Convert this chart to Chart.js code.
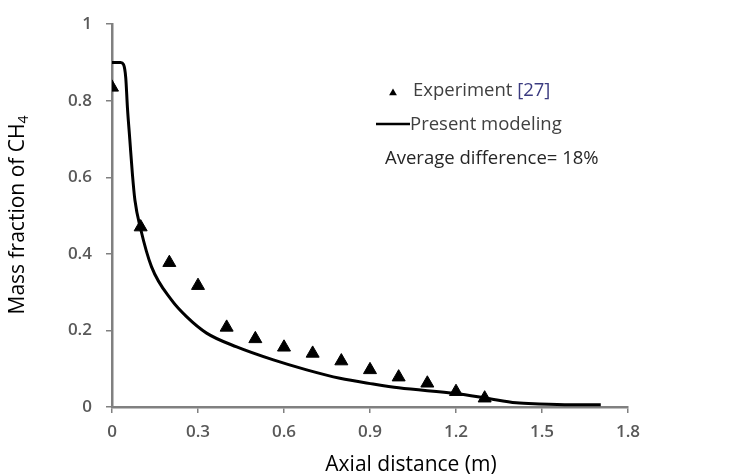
<!DOCTYPE html>
<html>
<head>
<meta charset="utf-8">
<script src="https://cdn.jsdelivr.net/npm/chart.js@4/dist/chart.umd.min.js"></script>
<style>
  html, body { margin: 0; padding: 0; background: #fff; }
  #wrap { width: 751px; height: 476px; position: relative; }
</style>
</head>
<body>
<div id="wrap"><canvas id="chart"></canvas></div>
<script>
// measured points (triangles)
const expX = [0, 0.1, 0.2, 0.3, 0.4, 0.5, 0.6, 0.7, 0.8, 0.9, 1.0, 1.1, 1.2, 1.3];
const expY = [0.835, 0.47, 0.377, 0.317, 0.208, 0.178, 0.156, 0.14, 0.12, 0.097, 0.078, 0.062, 0.04, 0.023];

// model curve
const modelX = [0, 0.03, 0.04, 0.048, 0.054, 0.062, 0.071, 0.08, 0.1, 0.138, 0.208, 0.26, 0.33, 0.435, 0.563, 0.679, 0.795, 0.911, 1.0, 1.2, 1.307, 1.41, 1.49, 1.6, 1.705];
const modelY = [0.9, 0.9, 0.895, 0.86, 0.78, 0.7, 0.61, 0.54, 0.465, 0.366, 0.279, 0.236, 0.193, 0.157, 0.123, 0.097, 0.075, 0.06, 0.05, 0.035, 0.023, 0.011, 0.008, 0.006, 0.006];

const xTicks = [0, 0.3, 0.6, 0.9, 1.2, 1.5, 1.8];
const yTicks = [0, 0.2, 0.4, 0.6, 0.8, 1];

const legendLabels = ['Experiment ', '[27]', 'Present modeling', 'Average difference= 18%'];
const xTitle = 'Axial distance (m)';
const yTitle = 'Mass fraction of CH';
const yTitleSub = '4';

const axisColor = '#808080';
const tickColor = '#595959';
const font = "'Open Sans', sans-serif";

function fmt(v) {
    return String(Number(v.toFixed(1)));
}

// legend, note and axis titles
const annotations = {
    id: 'annotations',
    afterDraw(chart) {
        const ctx = chart.ctx;
        ctx.save();
        ctx.textBaseline = 'middle';

        // legend
        ctx.fillStyle = '#000';
        Chart.helpers.drawPoint(ctx, { pointStyle: 'triangle', radius: 4.5, borderWidth: 0 }, 393, 93);
        ctx.font = '18.5px ' + font;
        ctx.fillStyle = '#404040';
        ctx.textAlign = 'left';
        ctx.fillText(legendLabels[0], 413, 91);
        let w = ctx.measureText(legendLabels[0]).width;
        ctx.fillStyle = '#3b3b80';
        ctx.fillText(legendLabels[1], 413 + w, 91);

        ctx.strokeStyle = '#000';
        ctx.lineWidth = 2.5;
        ctx.beginPath();
        ctx.moveTo(376, 124);
        ctx.lineTo(410, 124);
        ctx.stroke();
        ctx.fillStyle = '#404040';
        ctx.fillText(legendLabels[2], 410, 125);

        ctx.fillStyle = '#262626';
        ctx.fillText(legendLabels[3], 385, 159);

        // x title
        ctx.font = '21px ' + font;
        ctx.fillStyle = '#000';
        ctx.textAlign = 'center';
        ctx.fillText(xTitle, 411, 465);

        // y title with subscript
        ctx.translate(18, 215);
        ctx.rotate(-Math.PI / 2);
        const mainW = ctx.measureText(yTitle).width;
        ctx.font = '14px ' + font;
        const subW = ctx.measureText(yTitleSub).width;
        const start = -(mainW + subW) / 2;
        ctx.textAlign = 'left';
        ctx.font = '21px ' + font;
        ctx.fillText(yTitle, start, 0);
        ctx.font = '14px ' + font;
        ctx.fillText(yTitleSub, start + mainW, 6);
        ctx.restore();
    }
};

const ctx = document.getElementById('chart').getContext('2d');
new Chart(ctx, {
    type: 'scatter',
    data: {
        datasets: [
            {
                label: 'Present modeling',
                data: modelX.map((x, i) => ({ x: x, y: modelY[i] })),
                showLine: true,
                borderColor: '#000',
                borderWidth: 3,
                pointRadius: 0,
                cubicInterpolationMode: 'monotone',
                order: 2
            },
            {
                label: 'Experiment [27]',
                data: expX.map((x, i) => ({ x: x, y: expY[i] })),
                pointStyle: 'triangle',
                pointRadius: 7.5,
                backgroundColor: '#000',
                borderColor: '#000',
                borderWidth: 1,
                order: 1
            }
        ]
    },
    options: {
        responsive: true,
        maintainAspectRatio: false,
        animation: false,
        layout: { padding: { top: 24, right: 123, left: 0, bottom: 0 } },
        plugins: {
            legend: { display: false },
            tooltip: { enabled: false }
        },
        scales: {
            x: {
                type: 'linear',
                min: 0,
                max: 1.8,
                afterFit: s => { s.height = 69; },
                afterBuildTicks: s => { s.ticks = xTicks.map(v => ({ value: v })); },
                grid: { drawOnChartArea: false, drawTicks: true, tickLength: 6, color: axisColor, lineWidth: 1.5 },
                border: { display: true, color: axisColor, width: 2.5 },
                ticks: {
                    padding: 9,
                    color: tickColor,
                    font: { family: font, size: 17, weight: '600' },
                    callback: v => fmt(v)
                }
            },
            y: {
                min: 0,
                max: 1,
                afterFit: s => { s.width = 112; },
                afterBuildTicks: s => { s.ticks = yTicks.map(v => ({ value: v })); },
                grid: { drawOnChartArea: false, drawTicks: true, tickLength: 6, color: axisColor, lineWidth: 1.5 },
                border: { display: true, color: axisColor, width: 2.5 },
                ticks: {
                    padding: 14,
                    color: tickColor,
                    font: { family: font, size: 17, weight: '600' },
                    callback: v => fmt(v)
                }
            }
        }
    },
    plugins: [annotations]
});
</script>
</body>
</html>
